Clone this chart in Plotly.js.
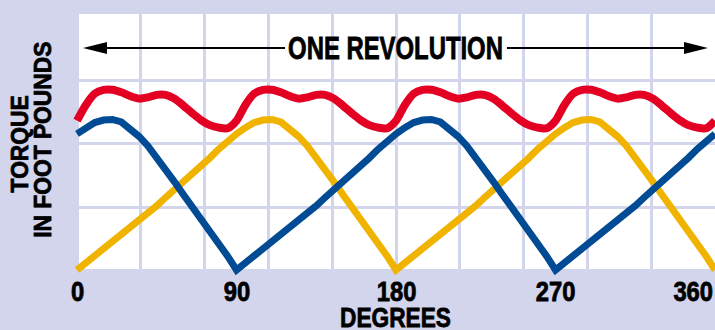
<!DOCTYPE html>
<html>
<head>
<meta charset="utf-8">
<script src="https://cdn.plot.ly/plotly-3.0.1.min.js"></script>
<style>
  html, body { margin: 0; padding: 0; background: #d2d5eb; }
  #chart { width: 715px; height: 330px; }
  #chart text.annotation-text { stroke: #000; stroke-width: 0.8px; }
</style>
</head>
<body>
<div id="chart"></div>
<script>
// Degrees of rotation (x values)
const degrees = [0,5,10,15,20,25,30,35,40,45,50,55,60,65,70,75,80,85,90,
  95,100,105,110,115,120,125,130,135,140,145,150,155,160,165,170,175,180,
  185,190,195,200,205,210,215,220,225,230,235,240,245,250,255,260,265,270,
  275,280,285,290,295,300,305,310,315,320,325,330,335,340,345,350,355,360];

// Yellow phase torque
const yellowTorque = [0,0.11,0.22,0.34,0.45,0.56,0.67,0.78,0.90,1.02,1.15,1.27,1.39,1.52,1.65,1.78,1.92,2.05,2.16,
  2.26,2.34,2.38,2.39,2.35,2.25,2.12,1.97,1.79,1.60,1.40,1.20,1.01,0.82,0.63,0.43,0.22,0,
  0.11,0.22,0.34,0.45,0.56,0.67,0.78,0.90,1.02,1.15,1.27,1.39,1.52,1.65,1.78,1.92,2.05,2.16,
  2.26,2.34,2.38,2.39,2.35,2.25,2.12,1.97,1.79,1.60,1.40,1.20,1.01,0.82,0.63,0.43,0.22,0];

// Blue phase torque
const blueTorque = [2.16,2.26,2.34,2.38,2.39,2.35,2.25,2.12,1.97,1.79,1.60,1.40,1.20,1.01,0.82,0.63,0.43,0.22,0,
  0.11,0.22,0.34,0.45,0.56,0.67,0.78,0.90,1.02,1.15,1.27,1.39,1.52,1.65,1.78,1.92,2.05,2.16,
  2.26,2.34,2.38,2.39,2.35,2.25,2.12,1.97,1.79,1.60,1.40,1.20,1.01,0.82,0.63,0.43,0.22,0,
  0.11,0.22,0.34,0.45,0.56,0.67,0.78,0.90,1.02,1.15,1.27,1.39,1.52,1.65,1.78,1.92,2.05,2.16];

// Red total torque
const redTorque = [2.37,2.62,2.80,2.86,2.86,2.82,2.76,2.72,2.74,2.78,2.78,2.72,2.61,2.49,2.38,2.30,2.26,2.25,
  2.37,2.62,2.80,2.86,2.86,2.82,2.76,2.72,2.74,2.78,2.78,2.72,2.61,2.49,2.38,2.30,2.26,2.25,
  2.37,2.62,2.80,2.86,2.86,2.82,2.76,2.72,2.74,2.78,2.78,2.72,2.61,2.49,2.38,2.30,2.26,2.25,
  2.37,2.62,2.80,2.86,2.86,2.82,2.76,2.72,2.74,2.78,2.78,2.72,2.61,2.49,2.38,2.30,2.26,2.25,2.37];

// Tick labels
const tickValues = [0, 90, 180, 270, 360];
const tickLabels = ["0", "90", "180", "270", "360"];
const gridDegrees = [0,36,72,108,144,180,216,252,288,324,360];
const gridLevels = [0,1,2,3];

const FONT = '"Liberation Sans", Arial, sans-serif';
const LAV = '#d2d5eb';

const traces = [
  {x: degrees, y: yellowTorque, mode: 'lines', line: {color: '#f0b400', width: 7}, cliponaxis: false, hoverinfo: 'skip'},
  {x: degrees, y: blueTorque, mode: 'lines', line: {color: '#004b93', width: 7}, cliponaxis: false, hoverinfo: 'skip'},
  {x: degrees, y: redTorque, mode: 'lines', line: {color: '#e30022', width: 8, shape: 'spline', smoothing: 0.8}, cliponaxis: false, hoverinfo: 'skip'}
];

// horizontal condensing factor for each annotation (same order as annotations)
const squeeze = [];
const annotations = [];
tickValues.forEach((v, i) => {
  const last = i === tickValues.length - 1;
  annotations.push({
    x: v, xref: 'x', y: -0.061, yref: 'paper',
    text: '<b>' + tickLabels[i] + '</b>', showarrow: false,
    xanchor: last ? 'right' : 'center', yanchor: 'middle',
    font: {family: FONT, size: 27, color: '#000'}
  });
  squeeze.push({s: 0.88, anchor: last ? 'right' : 'center'});
});
annotations.push({x: 0.5039, xref: 'paper', y: 0.870, yref: 'paper', text: '<b>ONE REVOLUTION</b>',
  showarrow: false, xanchor: 'center', yanchor: 'middle', font: {family: FONT, size: 31, color: '#000'}});
squeeze.push({s: 0.77, anchor: 'center'});
annotations.push({x: 0.5054, xref: 'paper', y: -0.158, yref: 'paper', text: '<b>DEGREES</b>',
  showarrow: false, xanchor: 'center', yanchor: 'middle', font: {family: FONT, size: 28, color: '#000'}});
squeeze.push({s: 0.81, anchor: 'center'});
annotations.push({x: -0.0775, xref: 'paper', y: 0.504, yref: 'paper', text: '<b>TORQUE</b>', textangle: -90,
  showarrow: false, xanchor: 'center', yanchor: 'middle', font: {family: FONT, size: 24, color: '#000'}});
squeeze.push({s: 0.95, anchor: 'center'});
annotations.push({x: -0.0434, xref: 'paper', y: 0.519, yref: 'paper', text: '<b>IN FOOT POUNDS</b>', textangle: -90,
  showarrow: false, xanchor: 'center', yanchor: 'middle', font: {family: FONT, size: 24, color: '#000'}});
squeeze.push({s: 0.95, anchor: 'center'});

const shapes = [
  {type: 'rect', xref: 'x', yref: 'paper', x0: 0, x1: 360, y0: 0.0229, y1: 1, fillcolor: '#ffffff', line: {width: 0}, layer: 'below'},
  {type: 'line', xref: 'paper', yref: 'paper', x0: 0.0574, x1: 0.3333, y0: 0.8702, y1: 0.8702, line: {color: '#000', width: 2}},
  {type: 'line', xref: 'paper', yref: 'paper', x0: 0.6775, x1: 0.9519, y0: 0.8702, y1: 0.8702, line: {color: '#000', width: 2}},
  {type: 'path', xref: 'paper', yref: 'paper', path: 'M 0.0202 0.8702 L 0.0574 0.8931 L 0.0574 0.8473 Z', fillcolor: '#000', line: {width: 0}},
  {type: 'path', xref: 'paper', yref: 'paper', path: 'M 0.9891 0.8702 L 0.9519 0.8931 L 0.9519 0.8473 Z', fillcolor: '#000', line: {width: 0}}
];

const layout = {
  width: 715, height: 330,
  margin: {l: 70, r: 0, t: 14, b: 54, pad: 0},
  paper_bgcolor: LAV, plot_bgcolor: LAV,
  showlegend: false,
  xaxis: {range: [-3.95, 360], tickvals: gridDegrees, showticklabels: false, ticks: '',
    showgrid: true, gridcolor: LAV, gridwidth: 3, zeroline: false, showline: false, fixedrange: true},
  yaxis: {range: [-0.095, 4.063], tickvals: gridLevels, showticklabels: false, ticks: '',
    showgrid: true, gridcolor: LAV, gridwidth: 3, zeroline: false, showline: false, fixedrange: true},
  annotations: annotations,
  shapes: shapes
};

function condense() {
  document.querySelectorAll('#chart .annotation').forEach(g => {
    const idx = +g.getAttribute('data-index');
    const sq = squeeze[idx];
    const t = g.querySelector('text.annotation-text');
    if (!sq || !t) return;
    const bb = t.getBBox();
    let ax = bb.x + bb.width / 2;
    if (sq.anchor === 'right') ax = bb.x + bb.width;
    t.setAttribute('transform', 'translate(' + ax + ',0) scale(' + sq.s + ',1) translate(' + (-ax) + ',0)');
  });
}

Plotly.newPlot('chart', traces, layout, {displayModeBar: false, staticPlot: true}).then(condense);
</script>
</body>
</html>
